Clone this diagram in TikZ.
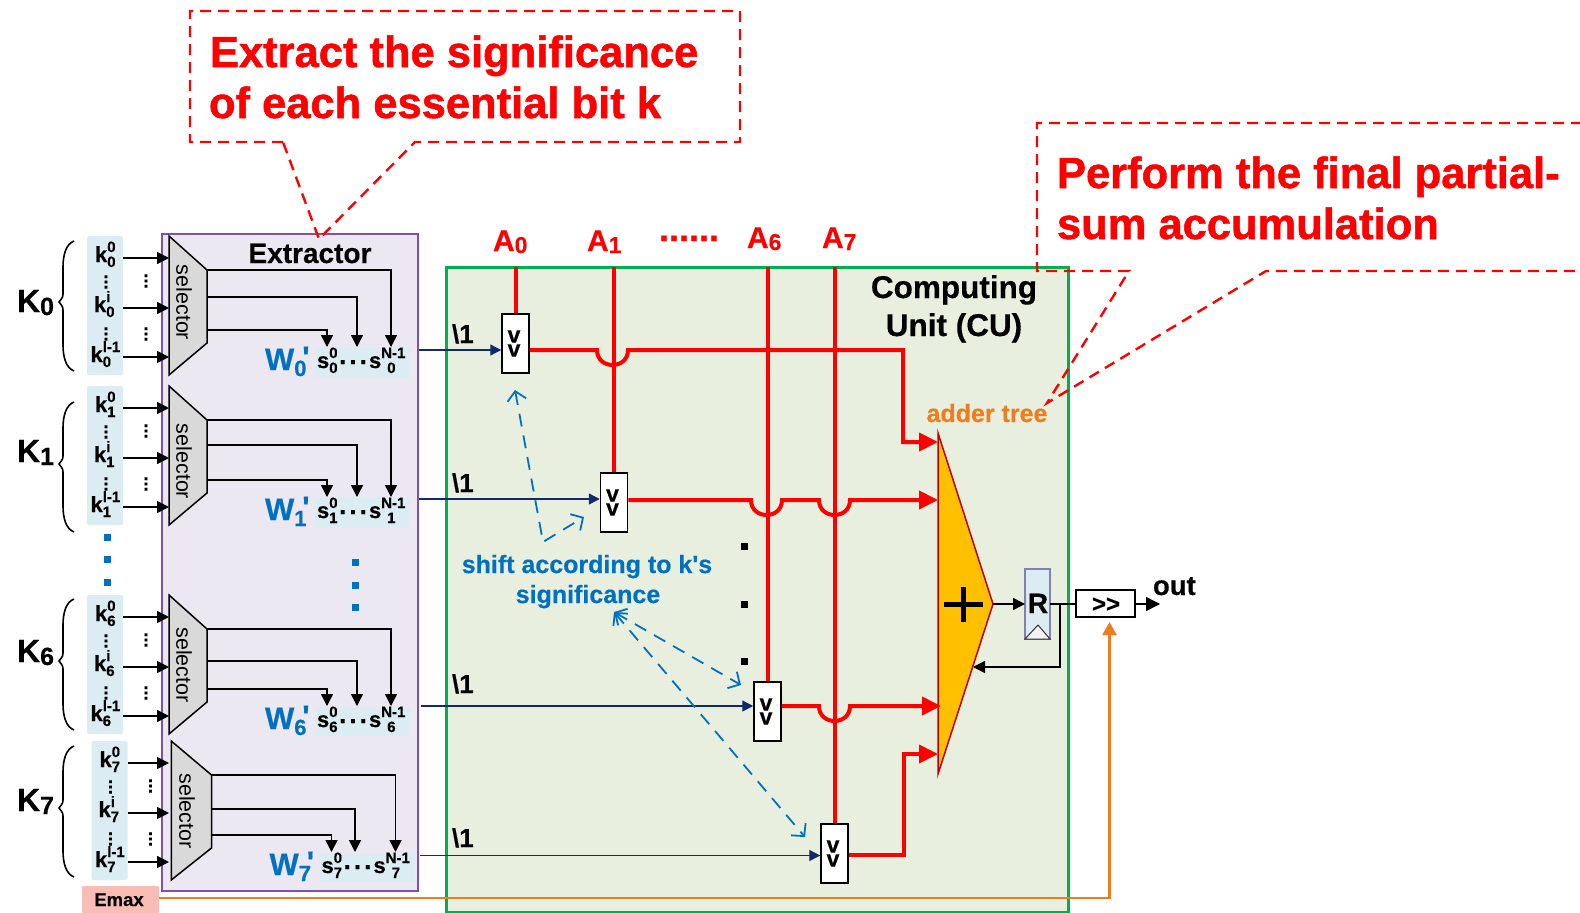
\documentclass[tikz,border=0pt]{standalone}
\usepackage{fontspec}
\setmainfont[BoldFeatures={FakeBold=0.4}]{Liberation Sans}
\newfontfamily\callfont[FakeBold=1.2]{Liberation Sans Bold}
\usetikzlibrary{arrows.meta,positioning}
\definecolor{panelc}{HTML}{DBECF3}
\definecolor{extc}{HTML}{ECE8F1}
\definecolor{extb}{HTML}{7F4FB5}
\definecolor{cuc}{HTML}{E9EFDE}
\definecolor{cub}{HTML}{00B050}
\definecolor{blueT}{HTML}{0070C0}
\definecolor{navyl}{HTML}{12296B}
\definecolor{orangeT}{HTML}{ED7D1F}
\definecolor{emaxc}{HTML}{F8BDB4}
\definecolor{adderc}{HTML}{FFC000}
\definecolor{adderb}{HTML}{C00000}
\newcommand\fsz[1]{\fontsize{#1}{#1}\selectfont}
\newcommand\ks[4][0pt]{{\fsz{22}\bfseries #2\rlap{\raisebox{10pt}{\fsz{15}#3}}\rlap{\hspace*{#1}\raisebox{-5pt}{\fsz{15}#4}}}}
\tikzset{
  txt/.style={inner sep=0pt,outer sep=0pt,anchor=base west},
  ctxt/.style={inner sep=0pt,outer sep=0pt,anchor=base},
  blk/.style={draw=black,line width=1.5pt},
  arr/.style={draw=black,line width=1.5pt,-{Triangle[length=12pt,width=12pt]}},
  navyarr/.style={draw=navyl,line width=1.4pt,-{Triangle[length=11pt,width=11pt]}},
  redline/.style={draw=red,line width=4pt},
  redarr/.style={draw=red,line width=4pt,-{Triangle[length=19pt,width=18pt]}},
  calldash/.style={draw=red,line width=2.4pt,dash pattern=on 11pt off 7pt},
  bluedash/.style={draw=blueT,line width=1.8pt,dash pattern=on 13pt off 9pt,{Straight Barb[length=9pt,width=19pt]}-{Straight Barb[length=9pt,width=19pt]}},
  shifter/.style={draw=black,fill=white,line width=1.5pt,minimum width=27pt,minimum height=59pt,inner sep=0pt,align=center,font=\fontsize{23}{14}\selectfont\bfseries},
  dotcol/.style={inner sep=0pt,rotate=90,font=\fsz{19}\bfseries},
  panel/.style={fill=panelc,rounded corners=1.5pt},
}
% id, sub, y0, dx, K baseline, brace top, brace tip, brace bottom, middle output y
\newcommand\kblock[9]{%
  \fill[panel] ({87+#4},#3) rectangle ({123+#4},{#3+139});
  \fill[panel] ({315+#4},{#3+112}) rectangle ({410+#4},{#3+141});
  \draw[blk,fill=gray!30,line join=miter]
     ({169+0.5*#4},#3) coordinate (sa#1) -- ({207+#4},{#3+34}) -- ({207+#4},{#3+107}) -- ({169+0.5*#4},{#3+139}) -- cycle;
  \node[rotate=-90,inner sep=0pt,font=\fsz{21.5}] (sel#1) at ({184+0.7*#4},{#3+\selo}) {selector};
  % left labels
  \node[txt] (K#1) at (17,#5) {\fsz{32}\bfseries K\raisebox{-3pt}{\fsz{25}#2}};
  \draw[line width=1.6pt] (74,#6) .. controls (66,{#6+3}) and (63,{#6+14}) .. (63,{#6+26}) -- (63,{#7-10}) .. controls (63,{#7-5}) .. (59,#7)
     .. controls (63,{#7+5}) .. (63,{#7+10}) -- (63,{#8-26}) .. controls (63,{#8-14}) and (66,{#8-3}) .. (74,#8);
  % inputs
  \node[txt] (ka#1) at ({95+#4},{#3+26}) {\ks{k}{0}{#2}};
  \node[txt] (kb#1) at ({94+#4},{#3+76}) {\ks{k}{i}{#2}};
  \node[txt] (kc#1) at ({90.5+#4},{#3+126}) {\ks{k}{l-1}{#2}};
  \node[dotcol] (da#1) at ({106+#4},{#3+46}) {...};
  \node[dotcol] (db#1) at ({106+#4},{#3+98}) {...};
  \node[dotcol] (dc#1) at ({146+#4},{#3+45}) {...};
  \node[dotcol] (dd#1) at ({146+#4},{#3+98}) {...};
  \coordinate (ia#1) at ({123+#4},{#3+22}); \coordinate (ja#1) at (169,{#3+22});
  \coordinate (ib#1) at ({123+#4},{#3+72}); \coordinate (jb#1) at (169,{#3+72});
  \coordinate (ic#1) at ({123+#4},{#3+121}); \coordinate (jc#1) at (169,{#3+121});
  \draw[arr] (ia#1) -- (ja#1);
  \draw[arr] (ib#1) -- (jb#1);
  \draw[arr] (ic#1) -- (jc#1);
  % outputs
  \coordinate (oa#1) at ({207+#4},{#3+34}); \coordinate (ta#1) at ({391+#4},{#3+111});
  \coordinate (ob#1) at ({207+#4},#9); \coordinate (tb#1) at (\midx,{#3+111});
  \coordinate (oc#1) at ({207+#4},{#3+94}); \coordinate (tc#1) at ({327+#4},{#3+111});
  \draw[arr] (oa#1) -| (ta#1);
  \draw[arr] (ob#1) -| (tb#1);
  \draw[arr] (oc#1) -| (tc#1);
  % word
  \node[txt,text=blueT] (W#1) at ({265+#4},{#3+134}) {\fsz{31}\bfseries W\rlap{\raisebox{-6pt}{\fsz{22}#2}}\rlap{\hspace*{8pt}\raisebox{2pt}{\textquotesingle}}};
  \node[txt] (s0#1) at ({317+#4},{#3+132}) {\ks{s}{0}{#2}};
  \node[ctxt] (sd#1) at ({353+#4},{#3+128}) {\fsz{26}\bfseries .\kern3pt.\kern3pt.};
  \node[txt] (sn#1) at ({369+#4},{#3+132}) {\ks[6pt]{s}{N-1}{#2}};
}
\begin{document}
\begin{tikzpicture}[x=1pt,y=-1pt]
\useasboundingbox (0,0) rectangle (1580,913);
% containers
\node[draw=extb,fill=extc,line width=1.6pt,minimum width=256pt,minimum height=657pt,inner sep=0pt,outer sep=0pt] (ext) at (290,562.5) {};
\node[draw=cub,fill=cuc,line width=3pt,minimum width=622pt,minimum height=645pt,inner sep=0pt,outer sep=0pt] (cu) at (757,589.5) {};
\node[ctxt] (extl) at (310,263) {\fsz{28}\bfseries Extractor};
\node[ctxt] (cul1) at (954,298) {\fsz{31.5}\bfseries Computing};
\node[ctxt] (cul2) at (954,336) {\fsz{31.5}\bfseries Unit (CU)};
% callouts
\coordinate (c1a) at (283,142); \coordinate (c1t) at (319,239); \coordinate (c1b) at (415,142);
\draw[calldash] (c1a) -- (190,142) -- (190,11) -- (740,11) -- (740,142) -- (c1b) -- (c1t) -- cycle;
\coordinate (c2a) at (1129,271); \coordinate (c2t) at (1047,403); \coordinate (c2b) at (1266,271);
\draw[calldash] (1582,123) -- (1037,123) -- (1037,271) -- (c2a) -- (c2t) -- (c2b) -- (1582,271);
\node[txt,text=red] (call1a) at (210,67) {\callfont\fsz{43.5}Extract the significance};
\node[txt,text=red] (call1b) at (209,118) {\callfont\fsz{43.5}of each essential bit k};
\node[txt,text=red] (call2a) at (1057,188) {\callfont\fsz{43.5}Perform the final partial-};
\node[txt,text=red] (call2b) at (1057,239) {\callfont\fsz{43.5}sum accumulation};
% blocks
\def\midx{357}
\def\selo{66.5}\kblock{0}{0}{236}{0}{312}{241}{302}{371}{297}
\def\selo{75.5}\kblock{1}{1}{386}{0}{462}{402}{464}{532}{445}
\def\selo{70}\kblock{6}{6}{595}{0}{662}{599}{661}{730}{661}
\def\midx{355}
\def\selo{70}\kblock{7}{7}{741}{4.5}{811}{746}{808}{877}{809}
% ellipsis dots
\foreach \yy in {537,559,582} \fill[blueT] (103.5,\yy-3.5) rectangle (110.5,\yy+3.5);
\foreach \yy in {562,585,607} \fill[blueT] (351.5,\yy-3.5) rectangle (358.5,\yy+3.5);
\foreach \yy in {546,604,661} \fill[black] (740.5,\yy-3.5) rectangle (747.5,\yy+3.5);
% A labels
\node[txt,text=red] (A0) at (493,251) {\fsz{30}\bfseries A\raisebox{-2pt}{\fsz{23}0}};
\node[txt,text=red] (A1) at (587,251) {\fsz{30}\bfseries A\raisebox{-2pt}{\fsz{23}1}};
\node[txt,text=red] (Ad) at (659,241) {\fsz{36}\bfseries ......};
\node[txt,text=red] (A6) at (747,248) {\fsz{30}\bfseries A\raisebox{-2pt}{\fsz{23}6}};
\node[txt,text=red] (A7) at (822,248) {\fsz{30}\bfseries A\raisebox{-2pt}{\fsz{23}7}};
% shifters
\node[shifter] (sh0) at (515.5,343.5) {v\kern3pt\\v\kern3pt};
\node[shifter] (sh1) at (614,502.5) {v\kern3pt\\v\kern3pt};
\node[shifter] (sh6) at (767.5,711.5) {v\kern3pt\\v\kern3pt};
\node[shifter] (sh7) at (834.5,853.5) {v\kern3pt\\v\kern3pt};
% adder
\coordinate (adT) at (938,433); \coordinate (adB) at (938,774); \coordinate (adA) at (993,604);
\draw[draw=adderb,fill=adderc,line width=1.5pt,line join=miter] (adT) -- (adA) -- (adB) -- cycle;
\draw[line width=5pt] (944,604.5) -- (983,604.5) (963.5,587) -- (963.5,622);
% red verticals
\coordinate (t0) at (515,267); \coordinate (t1) at (614,267); \coordinate (t6) at (767,267); \coordinate (t7) at (835,267);
\draw[redline] (sh0.north |- t0) -- (sh0.north);
\draw[redline] (sh1.north |- t1) -- (sh1.north);
\draw[redline] (sh6.north |- t6) -- (sh6.north);
\draw[redline] (sh7.north |- t7) -- (sh7.north);
% red horizontals
\coordinate (in0) at (938,442); \coordinate (in1) at (938,500); \coordinate (in6) at (941,706); \coordinate (in7) at (938,754);
\draw[redarr,line join=miter] (sh0.east |- 0,350) -- (597,350) .. controls (597,370) and (628,370) .. (628,350) -- (903,350) -- (903,442) -- (in0);
\draw[redarr] (sh1.east |- 0,500) -- (751,500) .. controls (751,520) and (782,520) .. (782,500) -- (819,500) .. controls (819,520) and (850,520) .. (850,500) -- (in1);
\draw[redarr] (sh6.east |- 0,706) -- (819,706) .. controls (819,726) and (850,726) .. (850,706) -- (in6);
\draw[redarr,line join=miter] (sh7.east |- 0,855) -- (904,855) -- (904,754) -- (in7);
% shift inputs
\coordinate (e0) at (419,350); \coordinate (e1) at (419,499); \coordinate (e6) at (421,706); \coordinate (e7) at (420,855.5);
\draw[navyarr] (e0) -- (sh0.west |- e0);
\draw[navyarr] (e1) -- (sh1.west |- e1);
\draw[navyarr] (e6) -- (sh6.west |- e6);
\draw[navyarr] (e7) -- (sh7.west |- e7);
\node[txt] (b0) at (452,343) {\fsz{26}\bfseries\textbackslash 1};
\node[txt] (b1) at (452,492) {\fsz{26}\bfseries\textbackslash 1};
\node[txt] (b6) at (452,693) {\fsz{26}\bfseries\textbackslash 1};
\node[txt] (b7) at (452,847) {\fsz{26}\bfseries\textbackslash 1};
% annotation
\node[ctxt,text=blueT] (sh1t) at (587,573) {\fsz{25}\bfseries shift according to k\textquotesingle s};
\node[ctxt,text=blueT] (sh2t) at (588,603) {\fsz{25}\bfseries significance};
\coordinate (ba) at (515,390); \coordinate (bb) at (543,542); \coordinate (bc) at (584,517);
\coordinate (bd) at (614,612); \coordinate (be) at (741,685); \coordinate (bf) at (805,837);
\draw[bluedash] (ba) -- (bb) -- (bc);
\draw[bluedash] (bd) -- (be);
\draw[bluedash] (bd) -- (bf);
\node[ctxt,text=orangeT] (addl) at (987,422) {\fsz{25}\bfseries adder tree};
% output part
\node[draw=black!60!blue!50,fill=panelc,line width=1.5pt,minimum width=25pt,minimum height=70pt,inner sep=0pt,outer sep=0pt] (R) at (1037.5,604) {};
\draw[black!80,fill=gray!10,line width=1pt] (R.south west) -- (1038,625) -- (R.south east) -- cycle;
\node[ctxt] (Rl) at (1038,613) {\fsz{28}\bfseries R};
\node[draw=black,fill=white,line width=1.5pt,minimum width=59pt,minimum height=27pt,inner sep=0pt,outer sep=0pt] (sr) at (1105.5,603.5) {};
\node[ctxt] (srl) at (1106,612) {\fsz{24}\bfseries {>}{>}};
\draw[arr] (adA) -- (R.west |- adA);
\draw[line width=1.5pt] (R.east |- 0,604) -- (sr.west |- 0,604);
\coordinate (fb) at (1060,604); \coordinate (fbe) at (973,667);
\draw[arr] (fb) |- (fbe);
\coordinate (outp) at (1160,604);
\draw[arr,-{Triangle[length=14pt,width=14pt]}] (sr.east |- 0,604) -- (outp);
\node[txt] (out) at (1153,595) {\fsz{27.5}\bfseries out};
% emax
\node[fill=emaxc,rounded corners=1pt,minimum width=77pt,minimum height=27pt,inner sep=0pt,outer sep=0pt] (emax) at (120.5,899.5) {};
\node[ctxt] (emaxl) at (119,906) {\fsz{18.5}\bfseries Emax};
\coordinate (emt) at (1109.5,622);
\draw[draw=orangeT,line width=2.5pt,-{Triangle[length=13pt,width=14pt]}] (emax.east |- 0,898) -| (emt);
\end{tikzpicture}
\end{document}
